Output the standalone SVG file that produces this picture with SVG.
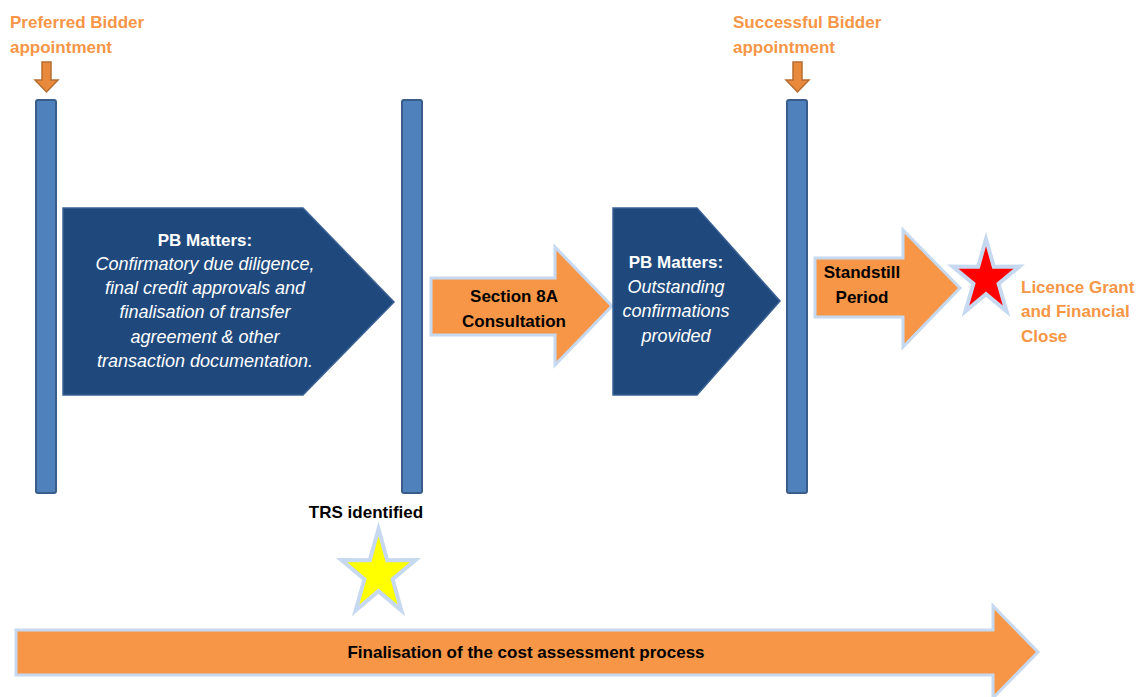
<svg xmlns="http://www.w3.org/2000/svg" width="1145" height="697" viewBox="0 0 1145 697">
<defs>
<style>
.bar{fill:#4F81BD;stroke:#385D8A;stroke-width:2}
.pent{fill:#1F497D;stroke:#3A6093;stroke-width:1.5}
.oarrow{fill:#F79646;stroke:#C6D9F1;stroke-width:3;stroke-linejoin:miter}
.down{fill:#E8893C;stroke:#B66D31;stroke-width:1.5}
.star{stroke:#C6D9F1;stroke-width:4;stroke-linejoin:miter}
text{font-family:"Liberation Sans",Arial,sans-serif;font-size:17px}
.lbl{fill:#F79646;font-weight:bold}
.blk{fill:#000;font-weight:bold;text-anchor:middle}
.wb{fill:#FFFFFF;font-weight:bold;text-anchor:middle}
.wi{fill:#FFFFFF;font-style:italic;text-anchor:middle;font-size:18px}
</style>
</defs>
<rect width="1145" height="697" fill="#FFFFFF"/>

<g id="label-preferred">
<text class="lbl" x="10" y="28">Preferred Bidder</text>
<text class="lbl" x="10" y="53">appointment</text>
</g>
<g id="label-successful">
<text class="lbl" x="733" y="28">Successful Bidder</text>
<text class="lbl" x="733" y="53">appointment</text>
</g>

<g id="bar1"><rect class="bar" x="36" y="100" width="20" height="393" rx="2"/></g>
<g id="bar2"><rect class="bar" x="402" y="100" width="20" height="393" rx="2"/></g>
<g id="bar3"><rect class="bar" x="787" y="100" width="20" height="393" rx="2"/></g>

<g id="connectors">
<polygon class="down" points="42,62 51,62 51,80 58,80 46.5,92 35,80 42,80"/>
<polygon class="down" points="793,62 802,62 802,80 809,80 797.5,92 786,80 793,80"/>
</g>

<g id="pb-matters-1">
<polygon class="pent" points="63,208 303,208 394,302 303,395 63,395"/>
<text class="wb" x="205" y="246">PB Matters:</text>
<text class="wi" x="205" y="270">Confirmatory due diligence,</text>
<text class="wi" x="205" y="294">final credit approvals and</text>
<text class="wi" x="205" y="318">finalisation of transfer</text>
<text class="wi" x="205" y="343">agreement &amp; other</text>
<text class="wi" x="205" y="367">transaction documentation.</text>
</g>

<g id="section-8a">
<polygon class="oarrow" points="431,278 555,278 555,247 612,306 555,365 555,335 431,335"/>
<text class="blk" x="514" y="302">Section 8A</text>
<text class="blk" x="514" y="327">Consultation</text>
</g>

<g id="pb-matters-2">
<polygon class="pent" points="613,208 697,208 780,301 697,395 613,395"/>
<text class="wb" x="676" y="268">PB Matters:</text>
<text class="wi" x="676" y="293">Outstanding</text>
<text class="wi" x="676" y="317">confirmations</text>
<text class="wi" x="676" y="342">provided</text>
</g>

<g id="standstill">
<polygon class="oarrow" points="815,258 903,258 903,230 960,288 903,347 903,317 815,317"/>
<text class="blk" x="862" y="278">Standstill</text>
<text class="blk" x="862" y="303">Period</text>
</g>

<g id="licence-grant">
<polygon class="star" fill="#FF0000" points="986,239 993.8,266.7 1019.3,266.6 998.6,283.7 1006.6,311.4 986,294.2 965.4,311.4 973.4,283.7 952.7,266.6 978.2,266.7"/>
<text class="lbl" x="1021" y="293">Licence Grant</text>
<text class="lbl" x="1021" y="317">and Financial</text>
<text class="lbl" x="1021" y="342">Close</text>
</g>

<g id="trs-identified">
<text class="blk" x="366" y="518">TRS identified</text>
<polygon class="star" fill="#FFFF00" points="378.5,529 387.2,560.2 415.6,560.1 392.6,579.3 401.4,610.4 378.5,591.1 355.6,610.4 364.4,579.3 341.4,560.1 369.8,560.2"/>
</g>

<g id="cost-assessment">
<polygon class="oarrow" points="16,630 993,630 993,606 1038,652 993,698 993,675 16,675"/>
<text class="blk" x="526" y="658">Finalisation of the cost assessment process</text>
</g>
</svg>
